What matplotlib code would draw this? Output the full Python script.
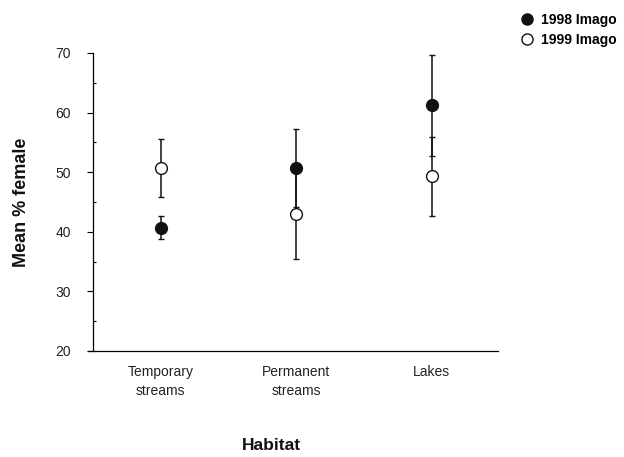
import matplotlib.pyplot as plt
from matplotlib.ticker import MultipleLocator
from matplotlib.lines import Line2D
import numpy as np

plt.rcParams['font.family'] = ['Liberation Sans', 'DejaVu Sans']

habitats = ['Temporary\nstreams', 'Permanent\nstreams', 'Lakes']
mean_1998 = [40.7, 50.7, 61.2]
err_1998 = [1.9, 6.5, 8.5]
mean_1999 = [50.7, 43.0, 49.3]
err_1999 = [4.8, 7.5, 6.6]

x = np.arange(1, len(habitats) + 1)

fig = plt.figure(figsize=(6.24, 4.57), dpi=100)
ax = fig.add_axes([93/624, 1 - 351/457, (498 - 93)/624, (351 - 53)/457])

ax.errorbar(x, mean_1999, yerr=err_1999, fmt='o', color='#111111', mfc='white', mec='#111111',
            ms=8.5, mew=1.0, elinewidth=1.1, capsize=2.5, capthick=1.1, zorder=3)
ax.errorbar(x, mean_1998, yerr=err_1998, fmt='o', color='#111111', mfc='#111111', mec='#111111',
            ms=8.5, mew=1.0, elinewidth=1.1, capsize=2.5, capthick=1.1, zorder=4)

ax.set_xlim(0.5, 3.49)
ax.set_ylim(20, 70)
ax.set_xticks(x)
ax.set_xticklabels(habitats, fontsize=10, color='#222222', linespacing=1.5)
ax.tick_params(axis='x', length=0, pad=10)
ax.yaxis.set_major_locator(MultipleLocator(10))
ax.yaxis.set_minor_locator(MultipleLocator(5))
ax.tick_params(axis='y', which='major', direction='out', length=4, width=0.8,
               pad=12, labelsize=10, labelcolor='#222222')
ax.tick_params(axis='y', which='minor', direction='in', length=2, width=0.8)

for side in ['top', 'right']:
    ax.spines[side].set_visible(False)
ax.spines['left'].set_linewidth(0.9)
ax.spines['bottom'].set_linewidth(0.9)
ax.spines['bottom'].set_bounds(0.46, 3.49)

ax.set_ylabel('Mean % female', fontsize=13, fontweight='bold', color='#111111', labelpad=18)
fig.text(271/624, 1 - 446/457, 'Habitat', fontsize=12.5, fontweight='bold', color='#111111',
         ha='center', va='center')

h98 = Line2D([], [], ls='none', marker='o', ms=8, mfc='#111111', mec='#111111')
h99 = Line2D([], [], ls='none', marker='o', ms=8, mfc='white', mec='#111111')
fig.legend([h98, h99], ['1998 Imago', '1999 Imago'], loc='upper left',
           bbox_to_anchor=(508/624, 1 - 0.5/457), frameon=False,
           prop={'weight': 'bold', 'size': 10}, handletextpad=0.5,
           labelspacing=0.45, handlelength=1.0)

fig.savefig('out.png', dpi=100)
